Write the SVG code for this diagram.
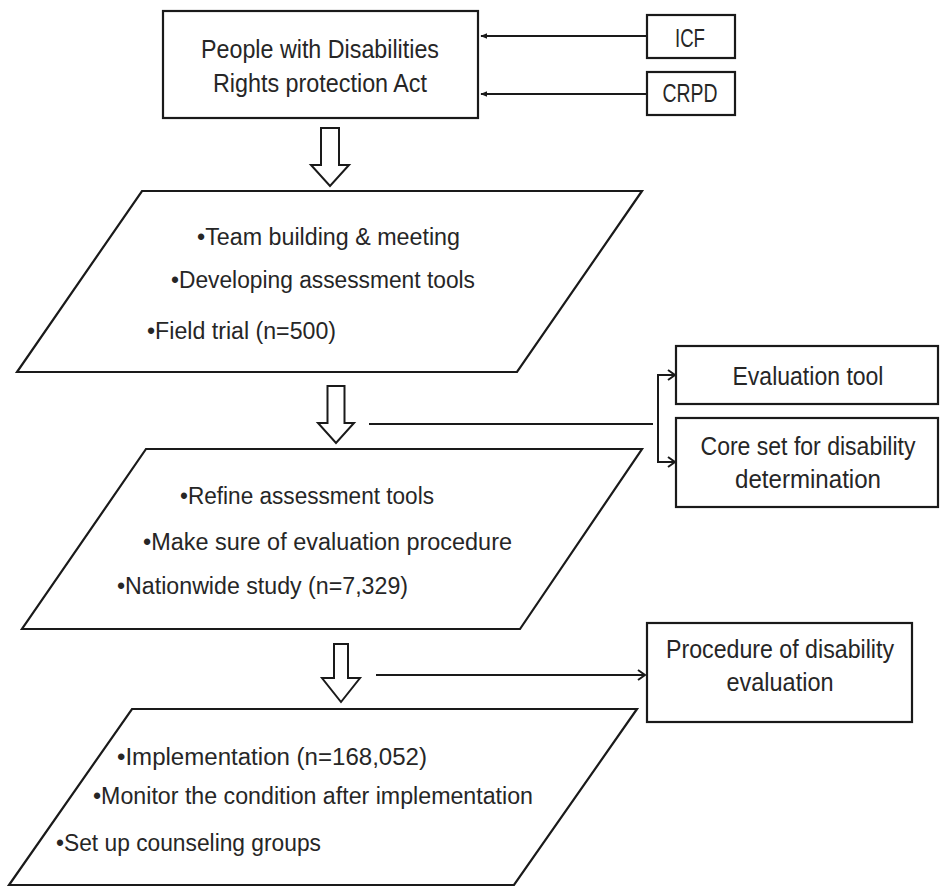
<svg xmlns="http://www.w3.org/2000/svg" width="940" height="888" viewBox="0 0 940 888">
<defs>
<style>
.box{fill:#fff;stroke:#1a1a1a;stroke-width:2.2}
.blk{fill:#fff;stroke:#1a1a1a;stroke-width:2;stroke-linejoin:miter}
.ln{fill:none;stroke:#1a1a1a;stroke-width:2}
text{font-family:"Liberation Sans",Arial,sans-serif;font-size:23.5px;fill:#262626}
.big{font-size:25px}
</style>
<marker id="tri" viewBox="0 0 10 10" refX="9" refY="5" markerWidth="7" markerHeight="7" orient="auto" markerUnits="userSpaceOnUse">
<path d="M0,1 L10,5 L0,9 z" fill="#1a1a1a"/>
</marker>
<marker id="chev" viewBox="0 0 12 12" refX="11" refY="6" markerWidth="12" markerHeight="12" orient="auto" markerUnits="userSpaceOnUse">
<path d="M4,1 L11,6 L4,11" fill="none" stroke="#1a1a1a" stroke-width="2"/>
</marker>
</defs>
<rect width="940" height="888" fill="#fff"/>

<g id="connectors">
<line class="ln" x1="647" y1="36" x2="481" y2="36" marker-end="url(#tri)"/>
<line class="ln" x1="647" y1="94" x2="481" y2="94" marker-end="url(#tri)"/>
<line class="ln" x1="369" y1="424" x2="653" y2="424"/>
<path class="ln" d="M675,375 H658 V462 H675"/>
<line class="ln" x1="662" y1="375" x2="675" y2="375" marker-end="url(#chev)"/>
<line class="ln" x1="662" y1="462" x2="675" y2="462" marker-end="url(#chev)"/>
<line class="ln" x1="376" y1="675" x2="645" y2="675" marker-end="url(#chev)"/>
<path id="flow1" class="blk" d="M321,128 H339 V165 H349 L330,186 L311,165 H321 Z"/>
<path id="flow2" class="blk" d="M327.5,386 H344.5 V423 H354 L336,443 L318,423 H327.5 Z"/>
<path id="flow3" class="blk" d="M334,644 H348 V678 H360 L341,702 L322,678 H334 Z"/>
</g>

<g id="act">
<rect class="box" x="163" y="11" width="315" height="107"/>
<text class="big" x="320" y="58" text-anchor="middle" textLength="238" lengthAdjust="spacingAndGlyphs">People with Disabilities</text>
<text class="big" x="320" y="92" text-anchor="middle" textLength="214" lengthAdjust="spacingAndGlyphs">Rights protection Act</text>
</g>

<g id="icf">
<rect class="box" x="647" y="15" width="88" height="43"/>
<text class="big" x="690" y="47" text-anchor="middle" textLength="30" lengthAdjust="spacingAndGlyphs">ICF</text>
</g>

<g id="crpd">
<rect class="box" x="647" y="72" width="88" height="43"/>
<text class="big" x="690" y="102" text-anchor="middle" textLength="55" lengthAdjust="spacingAndGlyphs">CRPD</text>
</g>

<g id="stage1">
<polygon class="box" points="142,191 642,191 517,372 17,372"/>
<text x="197" y="245" textLength="263" lengthAdjust="spacingAndGlyphs">•Team building &amp; meeting</text>
<text x="171" y="288" textLength="304" lengthAdjust="spacingAndGlyphs">•Developing assessment tools</text>
<text x="147" y="339" textLength="189" lengthAdjust="spacingAndGlyphs">•Field trial (n=500)</text>
</g>

<g id="evaltool">
<rect class="box" x="676" y="346" width="262" height="58"/>
<text class="big" x="808" y="385" text-anchor="middle" textLength="151" lengthAdjust="spacingAndGlyphs">Evaluation tool</text>
</g>

<g id="coreset">
<rect class="box" x="676" y="418" width="262" height="89"/>
<text class="big" x="808" y="455" text-anchor="middle" textLength="215" lengthAdjust="spacingAndGlyphs">Core set for disability</text>
<text class="big" x="808" y="488" text-anchor="middle" textLength="146" lengthAdjust="spacingAndGlyphs">determination</text>
</g>

<g id="stage2">
<polygon class="box" points="146,449 642,449 520,629 22,629"/>
<text x="180" y="504" textLength="254" lengthAdjust="spacingAndGlyphs">•Refine assessment tools</text>
<text x="143" y="550" textLength="369" lengthAdjust="spacingAndGlyphs">•Make sure of evaluation procedure</text>
<text x="117" y="594" textLength="291" lengthAdjust="spacingAndGlyphs">•Nationwide study (n=7,329)</text>
</g>

<g id="procedure">
<rect class="box" x="647" y="623" width="265" height="99"/>
<text class="big" x="780" y="658" text-anchor="middle" textLength="228" lengthAdjust="spacingAndGlyphs">Procedure of disability</text>
<text class="big" x="780" y="691" text-anchor="middle" textLength="107" lengthAdjust="spacingAndGlyphs">evaluation</text>
</g>

<g id="stage3">
<polygon class="box" points="132,709 637,709 514,885 9,885"/>
<text x="117" y="765" textLength="310" lengthAdjust="spacingAndGlyphs">•Implementation (n=168,052)</text>
<text x="93" y="804" textLength="440" lengthAdjust="spacingAndGlyphs">•Monitor the condition after implementation</text>
<text x="56" y="851" textLength="265" lengthAdjust="spacingAndGlyphs">•Set up counseling groups</text>
</g>
</svg>
